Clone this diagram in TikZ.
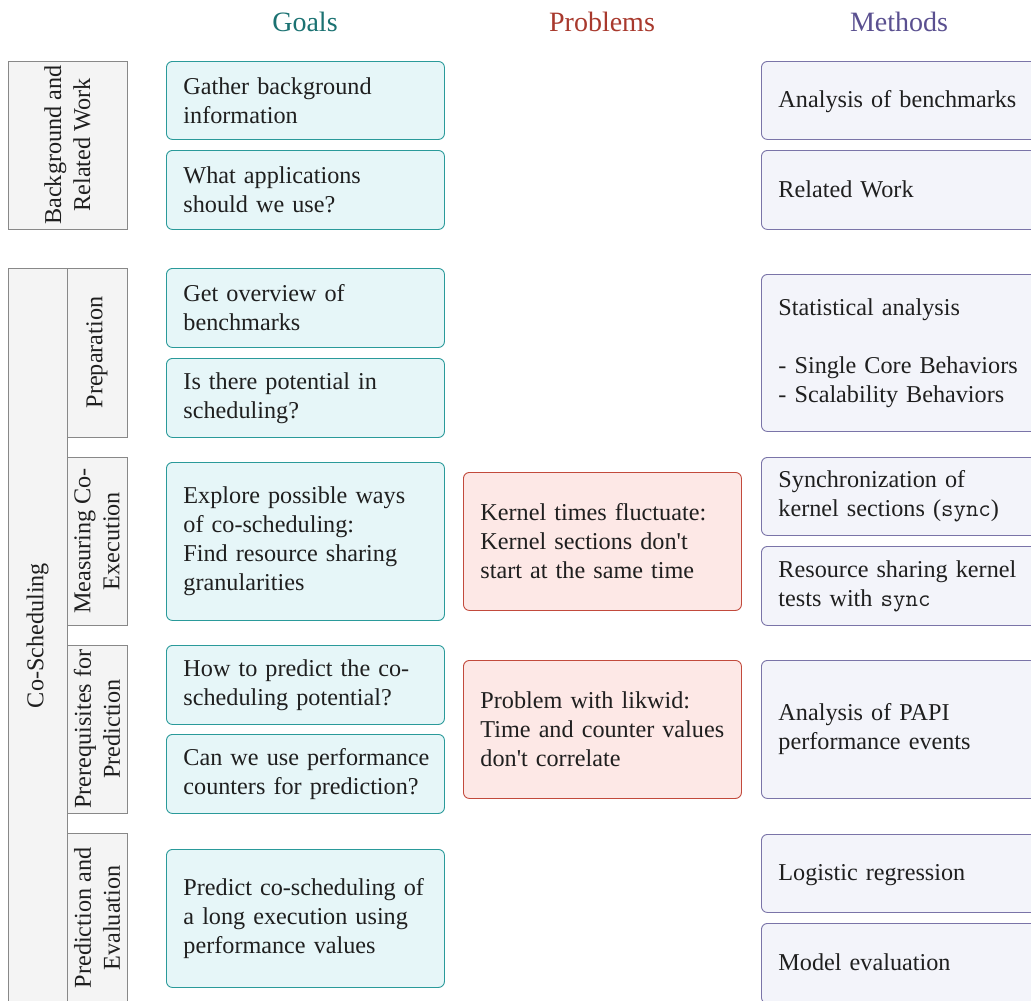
\documentclass[tikz,border=0pt]{standalone}
\usepackage{fontspec}
\setmainfont{Liberation Serif}

\definecolor{goalline}{HTML}{2A9A9A}
\definecolor{goalfill}{HTML}{E6F6F8}
\definecolor{goaltext}{HTML}{1B7272}
\definecolor{probline}{HTML}{C24A3C}
\definecolor{probfill}{HTML}{FDE8E6}
\definecolor{probtext}{HTML}{A8392D}
\definecolor{methline}{HTML}{7A74A8}
\definecolor{methfill}{HTML}{F3F4FA}
\definecolor{methtext}{HTML}{5A5090}
\definecolor{catline}{HTML}{888888}
\definecolor{catfill}{HTML}{F4F4F4}

\tikzset{
	txt/.style={font=\fontsize{24.2}{29}\selectfont, text=black!88},
	head/.style={font=\fontsize{28}{32}\selectfont},
	box/.style={txt, anchor=north west, align=left, inner xsep=17pt, rounded corners=6pt, line width=0.9pt,
		execute at begin node={\rightskip=0pt plus 1fil minus 12pt}},
	oneline/.style={text height=18pt, text depth=3pt},
	goalbox/.style={box, draw=goalline, fill=goalfill, text width=244pt},
	probbox/.style={box, draw=probline, fill=probfill, text width=244pt},
	methbox/.style={box, draw=methline, fill=methfill, text width=270pt},
	catbox/.style={txt, draw=catline, fill=catfill, line width=0.9pt, rotate=90, align=center, inner sep=0pt},
}

\begin{document}
\begin{tikzpicture}[x=1pt, y=-1pt]
		\clip (0,0) rectangle (1031,1001);
		% column heads
		\node[head, text=goaltext] (goals) at (305,22) {Goals};
		\node[head, text=probtext] (problems) at (602,22) {Problems};
		\node[head, text=methtext] (methods) at (899,22) {Methods};

		% phases
		\node[catbox, minimum width=168pt, minimum height=119pt] (background) at (67.5,145) {Background and\\Related Work};
		\node[catbox, minimum width=735pt, minimum height=59pt] (cosched) at (37.5,635.5) {Co-Scheduling};
		\node[catbox, minimum width=169pt, minimum height=60pt] (prep) at (97,352.5) {Preparation};
		\node[catbox, minimum width=168pt, minimum height=60pt] (measure) at (97,541) {Measuring Co-\\Execution};
		\node[catbox, minimum width=168pt, minimum height=60pt] (prereq) at (97,729) {Prerequisites for\\Prediction};
		\node[catbox, minimum width=170pt, minimum height=60pt] (predeval) at (97,918) {Prediction and\\Evaluation};

		% goals
		\node[goalbox, minimum height=78pt] (gather) at (166,61) {Gather background\\information};
		\node[goalbox, minimum height=79pt] (apps) at (166,150) {What applications\\should we use?};
		\node[goalbox, minimum height=79pt] (overview) at (166,268) {Get overview of\\benchmarks};
		\node[goalbox, minimum height=79pt] (potential) at (166,358) {Is there potential in\\scheduling?};
		\node[goalbox, minimum height=158pt] (explore) at (166,462) {Explore possible ways\\of co-scheduling:\\Find resource sharing\\granularities};
		\node[goalbox, minimum height=79pt] (howpredict) at (166,645) {How to predict the co-\\scheduling potential?};
		\node[goalbox, minimum height=79pt] (counters) at (166,734) {Can we use performance\\counters for prediction?};
		\node[goalbox, minimum height=138pt] (predict) at (166,849) {Predict co-scheduling of\\a long execution using\\performance values};

		% problems
		\node[probbox, minimum height=138pt] (fluct) at (463,472) {Kernel times fluctuate:\\Kernel sections don\textquotesingle t\\start at the same time};
		\node[probbox, minimum height=138pt] (likwid) at (463,660) {Problem with likwid:\\Time and counter values\\don\textquotesingle t correlate};

		% methods
		\node[methbox, oneline, minimum height=78pt] (analysis) at (761,61) {Analysis of benchmarks};
		\node[methbox, oneline, minimum height=79pt] (related) at (761,150) {Related Work};
		\node[methbox, minimum height=157pt] (stats) at (761,274) {Statistical analysis\\[29pt]- Single Core Behaviors\\- Scalability Behaviors};
		\node[methbox, minimum height=78pt] (syncsec) at (761,457) {Synchronization of\\kernel sections (\texttt{sync})};
		\node[methbox, minimum height=79pt] (restests) at (761,546) {Resource sharing kernel\\tests with \texttt{sync}};
		\node[methbox, minimum height=138pt] (papi) at (761,660) {Analysis of PAPI\\performance events};
		\node[methbox, oneline, minimum height=78pt] (logreg) at (761,834) {Logistic regression};
		\node[methbox, oneline, minimum height=80pt] (modeleval) at (761,923) {Model evaluation};
	\end{tikzpicture}
\end{document}
